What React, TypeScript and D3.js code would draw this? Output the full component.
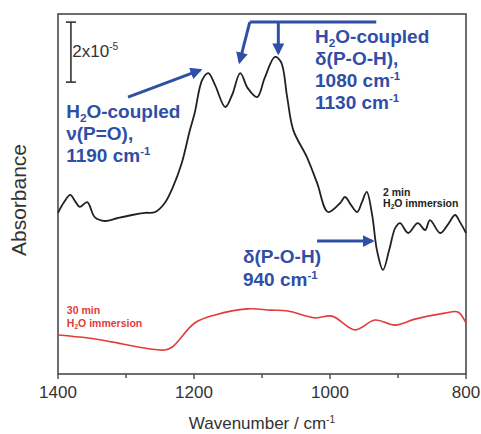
import React from "react";
import * as d3 from "d3";

const W = 481;
const H = 434;

// 2 min H2O immersion spectrum (black)
const wn2min = [1400, 1391, 1382, 1374, 1368, 1357, 1346, 1331, 1312, 1291, 1272, 1257, 1243, 1231, 1218, 1206, 1199, 1188, 1179, 1169, 1154, 1144, 1132, 1121, 1107, 1096, 1081, 1072, 1063, 1054, 1034, 1019, 1003, 985, 978, 969, 960, 953, 946, 938, 931, 922, 913, 904, 897, 885, 871, 860, 853, 838, 827, 816, 809, 800];
const abs2min = [5.37, 5.73, 5.97, 5.73, 5.57, 5.73, 5.23, 5.1, 5.2, 5.3, 5.37, 5.4, 5.7, 6.23, 7.03, 8.13, 8.7, 9.8, 10.03, 9.63, 8.9, 9.3, 10.03, 9.53, 9.23, 9.87, 10.57, 10.4, 9.23, 8.13, 7.23, 6.37, 5.4, 5.7, 5.9, 5.63, 5.4, 5.73, 6.07, 5.3, 4.13, 3.47, 4.13, 4.87, 5.03, 4.7, 5.03, 4.8, 5.13, 4.7, 4.97, 5.3, 5.07, 4.7];

// 30 min H2O immersion spectrum (red)
const wn30min = [1400, 1356, 1321, 1282, 1243, 1232, 1199, 1169, 1121, 1088, 1062, 1022, 997, 963, 934, 904, 875, 831, 812, 800];
const abs30min = [1.3, 1.2, 1.07, 0.9, 0.8, 0.9, 1.7, 1.97, 2.17, 2.13, 2.1, 1.87, 1.93, 1.47, 1.8, 1.63, 1.83, 2.03, 2.07, 1.7];

const xTickLabels = [1400, 1200, 1000, 800];
const xMinorTicks = [1300, 1100, 900];

const BLUE = "#2f4ea6";
const RED = "#e23b3b";
const AXIS = "#4a4a4a";
const FONT = "Arial, 'Liberation Sans', Helvetica, sans-serif";

export default function App() {
  const x = d3.scaleLinear().domain([1400, 800]).range([58, 466]);
  const y = d3.scaleLinear().domain([0, 12]).range([374, 14]);

  const line = d3
    .line<[number, number]>()
    .x((d) => x(d[0]))
    .y((d) => y(d[1]))
    .curve(d3.curveCatmullRom.alpha(0.5));

  const black = line(wn2min.map((w, i) => [w, abs2min[i]] as [number, number])) || "";
  const red = line(wn30min.map((w, i) => [w, abs30min[i]] as [number, number])) || "";

  const x0 = x(1400);
  const x1 = x(800);
  const yTop = y(12);
  const yBot = y(0);

  // H₂O with subscript, followed by rest text
  const h2o = (rest: string, fs: number) => {
    const d = Math.round(fs * 0.22);
    return (
      <>
        H<tspan dy={d} fontSize={fs * 0.62}>2</tspan>
        <tspan dy={-d}>{"O" + rest}</tspan>
      </>
    );
  };
  const sup = (s: string, fs: number) => (
    <tspan dy={-fs * 0.38} fontSize={fs * 0.6}>{s}</tspan>
  );

  const bfs = 19; // annotation font size
  const lh = 22;

  return (
    <svg
      width={W}
      height={H}
      style={{ position: "absolute", left: 0, top: 0, background: "#fff" }}
      fontFamily={FONT}
    >
      <defs>
        <marker id="ah" viewBox="0 0 10 10" refX="8" refY="5" markerWidth="4" markerHeight="4" orient="auto" markerUnits="strokeWidth">
          <path d="M0,0 L10,5 L0,10 z" fill={BLUE} />
        </marker>
      </defs>

      {/* frame */}
      <rect x={x0} y={yTop} width={x1 - x0} height={yBot - yTop} fill="none" stroke={AXIS} strokeWidth={1.6} />

      {/* ticks */}
      {xTickLabels.map((t) => (
        <line key={"M" + t} x1={x(t)} x2={x(t)} y1={yBot} y2={yBot + 5} stroke={AXIS} strokeWidth={1.4} />
      ))}
      {xMinorTicks.map((t) => (
        <line key={"m" + t} x1={x(t)} x2={x(t)} y1={yBot} y2={yBot + 4} stroke={AXIS} strokeWidth={1.4} />
      ))}
      {xTickLabels.map((t) => (
        <text key={"l" + t} x={x(t)} y={398} textAnchor="middle" fontSize={17} fill="#333">
          {t}
        </text>
      ))}
      <text x={(x0 + x1) / 2} y={429} textAnchor="middle" fontSize={17} fill="#333">
        Wavenumber / cm{sup("-1", 17)}
      </text>
      <text transform={`translate(26,${(yTop + yBot) / 2 + 6}) rotate(-90)`} textAnchor="middle" fontSize={21} fill="#333">
        Absorbance
      </text>

      {/* scale bar */}
      <g stroke="#333" strokeWidth={1.6}>
        <line x1={x(1381)} x2={x(1381)} y1={y(9.73)} y2={y(11.73)} />
        <line x1={x(1381) - 5} x2={x(1381) + 5} y1={y(9.73)} y2={y(9.73)} />
        <line x1={x(1381) - 5} x2={x(1381) + 5} y1={y(11.73)} y2={y(11.73)} />
      </g>
      <text x={x(1379)} y={y(10.57)} fontSize={17} fill="#333">
        2x10{sup("-5", 17)}
      </text>

      {/* spectra */}
      <path d={black} fill="none" stroke="#222" strokeWidth={1.8} />
      <path d={red} fill="none" stroke={RED} strokeWidth={1.6} />

      {/* arrows */}
      <g stroke={BLUE} strokeWidth={3} fill="none">
        <line x1={x(1297)} y1={y(9.23)} x2={x(1191)} y2={y(10.13)} markerEnd="url(#ah)" />
        <line x1={x(1118)} y1={y(11.73)} x2={x(932)} y2={y(11.73)} />
        <line x1={x(1118)} y1={y(11.73)} x2={x(1133)} y2={y(10.4)} markerEnd="url(#ah)" />
        <line x1={x(1076)} y1={y(11.73)} x2={x(1076)} y2={y(10.7)} markerEnd="url(#ah)" />
        <line x1={x(1019)} y1={y(4.43)} x2={x(938)} y2={y(4.43)} markerEnd="url(#ah)" />
      </g>

      {/* annotation texts */}
      <g fill={BLUE} fontSize={bfs} fontWeight="bold">
        <text x={x(1388)} y={y(8.53)}>{h2o("-coupled", bfs)}</text>
        <text x={x(1388)} y={y(8.53) + lh}>ν(P=O),</text>
        <text x={x(1388)} y={y(8.53) + 2 * lh}>
          1190 cm{sup("-1", bfs)}
        </text>

        <text x={x(1022)} y={y(11.03)}>{h2o("-coupled", bfs)}</text>
        <text x={x(1022)} y={y(11.03) + lh}>δ(P-O-H),</text>
        <text x={x(1022)} y={y(11.03) + 2 * lh}>
          1080 cm{sup("-1", bfs)}
        </text>
        <text x={x(1022)} y={y(11.03) + 3 * lh}>
          1130 cm{sup("-1", bfs)}
        </text>

        <text x={x(1128)} y={y(3.7)}>δ(P-O-H)</text>
        <text x={x(1128)} y={y(3.7) + 23}>
          940 cm{sup("-1", bfs)}
        </text>
      </g>

      <g fontSize={10.5} fontWeight="bold">
        <text x={x(922)} y={y(5.93)} fill="#222">2 min</text>
        <text x={x(922)} y={y(5.93) + 11}>
          <tspan fill="#222">{h2o(" immersion", 10.5)}</tspan>
        </text>
        <text x={x(1387)} y={y(2.0)} fill={RED}>30 min</text>
        <text x={x(1387)} y={y(2.0) + 13}>
          <tspan fill={RED}>{h2o(" immersion", 10.5)}</tspan>
        </text>
      </g>
    </svg>
  );
}
